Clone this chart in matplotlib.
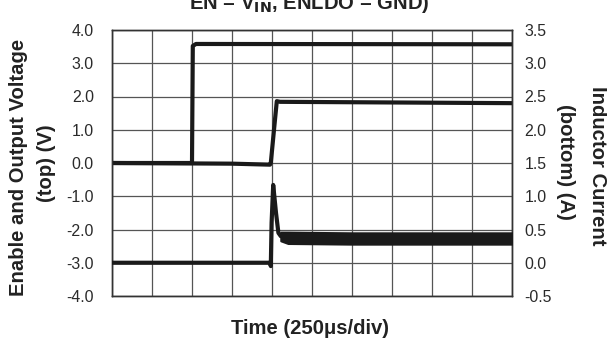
import matplotlib
matplotlib.use("Agg")
import matplotlib.pyplot as plt
from matplotlib.ticker import MultipleLocator

plt.rcParams['font.family'] = ['Liberation Sans', 'DejaVu Sans']

# time in divisions (250 us/div)
en_t = [0.0, 2.0, 2.02, 2.1, 10.0]
en_v = [0.0, 0.0, 3.52, 3.58, 3.57]

vout_t = [0.0, 3.0, 3.95, 3.97, 4.05, 4.12, 4.2, 10.0]
vout_v = [0.0, -0.02, -0.05, 0.0, 1.0, 1.86, 1.84, 1.80]

il_t = [0.0, 3.95, 3.97, 3.99, 4.03, 4.1, 4.16, 4.22, 4.4]
il_a = [0.0, 0.0, -0.05, 0.6, 1.17, 0.75, 0.45, 0.40, 0.38]

band_t = [4.22, 4.4, 6.0, 8.0, 10.0]
band_hi = [0.46, 0.46, 0.45, 0.45, 0.45]
band_lo = [0.33, 0.29, 0.28, 0.28, 0.28]

left_ticks = [-4.0, -3.0, -2.0, -1.0, 0.0, 1.0, 2.0, 3.0, 4.0]
right_ticks = [-0.5, 0.0, 0.5, 1.0, 1.5, 2.0, 2.5, 3.0, 3.5]

fig = plt.figure(figsize=(6.07, 3.41), dpi=100)
ax = fig.add_axes([112/607, 1-296/341, 400/607, 266/341])
ax2 = ax.twinx()

lc = '#1a1a1a'
lw = 3.0
ax.plot(en_t, en_v, color=lc, lw=lw, solid_joinstyle='round', zorder=3)
ax.plot(vout_t, vout_v, color=lc, lw=lw, solid_joinstyle='round', zorder=3)
ax2.plot(il_t, il_a, color=lc, lw=lw, solid_joinstyle='round', zorder=3)
ax2.fill_between(band_t, band_lo, band_hi, color=lc, lw=1.5, zorder=3)

ax.set_xlim(0, 10)
ax.set_ylim(-4, 4)
ax2.set_ylim(-0.5, 3.5)
ax.xaxis.set_major_locator(MultipleLocator(1))
ax.set_yticks(left_ticks)
ax.set_yticklabels([f"{v:.1f}" for v in left_ticks])
ax2.set_yticks(right_ticks)
ax2.set_yticklabels([f"{v:.1f}" for v in right_ticks])
ax.grid(True, color='#555555', lw=0.9)
ax.set_axisbelow(True)
ax.tick_params(axis='x', length=0, labelbottom=False)
ax.tick_params(axis='y', length=0, labelsize=11.4, pad=13, colors='#2a2a2a')
ax2.tick_params(axis='y', length=0, labelsize=11.4, pad=9, colors='#2a2a2a')
for a in (ax, ax2):
    for s in a.spines.values():
        s.set_color('#333333')
        s.set_linewidth(1.0)

tk = dict(fontweight='bold', fontsize=14.6, color='#222222')
fig.text(309/607, 1-8.7/341, 'EN = V$_{\\mathbf{IN}}$, ENLDO = GND)', ha='center', va='baseline', **tk)
fig.text(19/607, 1-167/341, 'Enable and Output Voltage', rotation=90, ha='center', va='center', **tk)
fig.text(46/607, 1-163/341, '(top) (V)', rotation=90, ha='center', va='center', **tk)
fig.text(598/607, 1-166/341, 'Inductor Current', rotation=-90, ha='center', va='center', **tk)
fig.text(566/607, 1-162/341, '(bottom) (A)', rotation=-90, ha='center', va='center', **tk)
fig.text(310/607, 1-329/341, 'Time (250\u03bcs/div)', ha='center', va='center', **tk)

fig.savefig('out.png', dpi=100)
